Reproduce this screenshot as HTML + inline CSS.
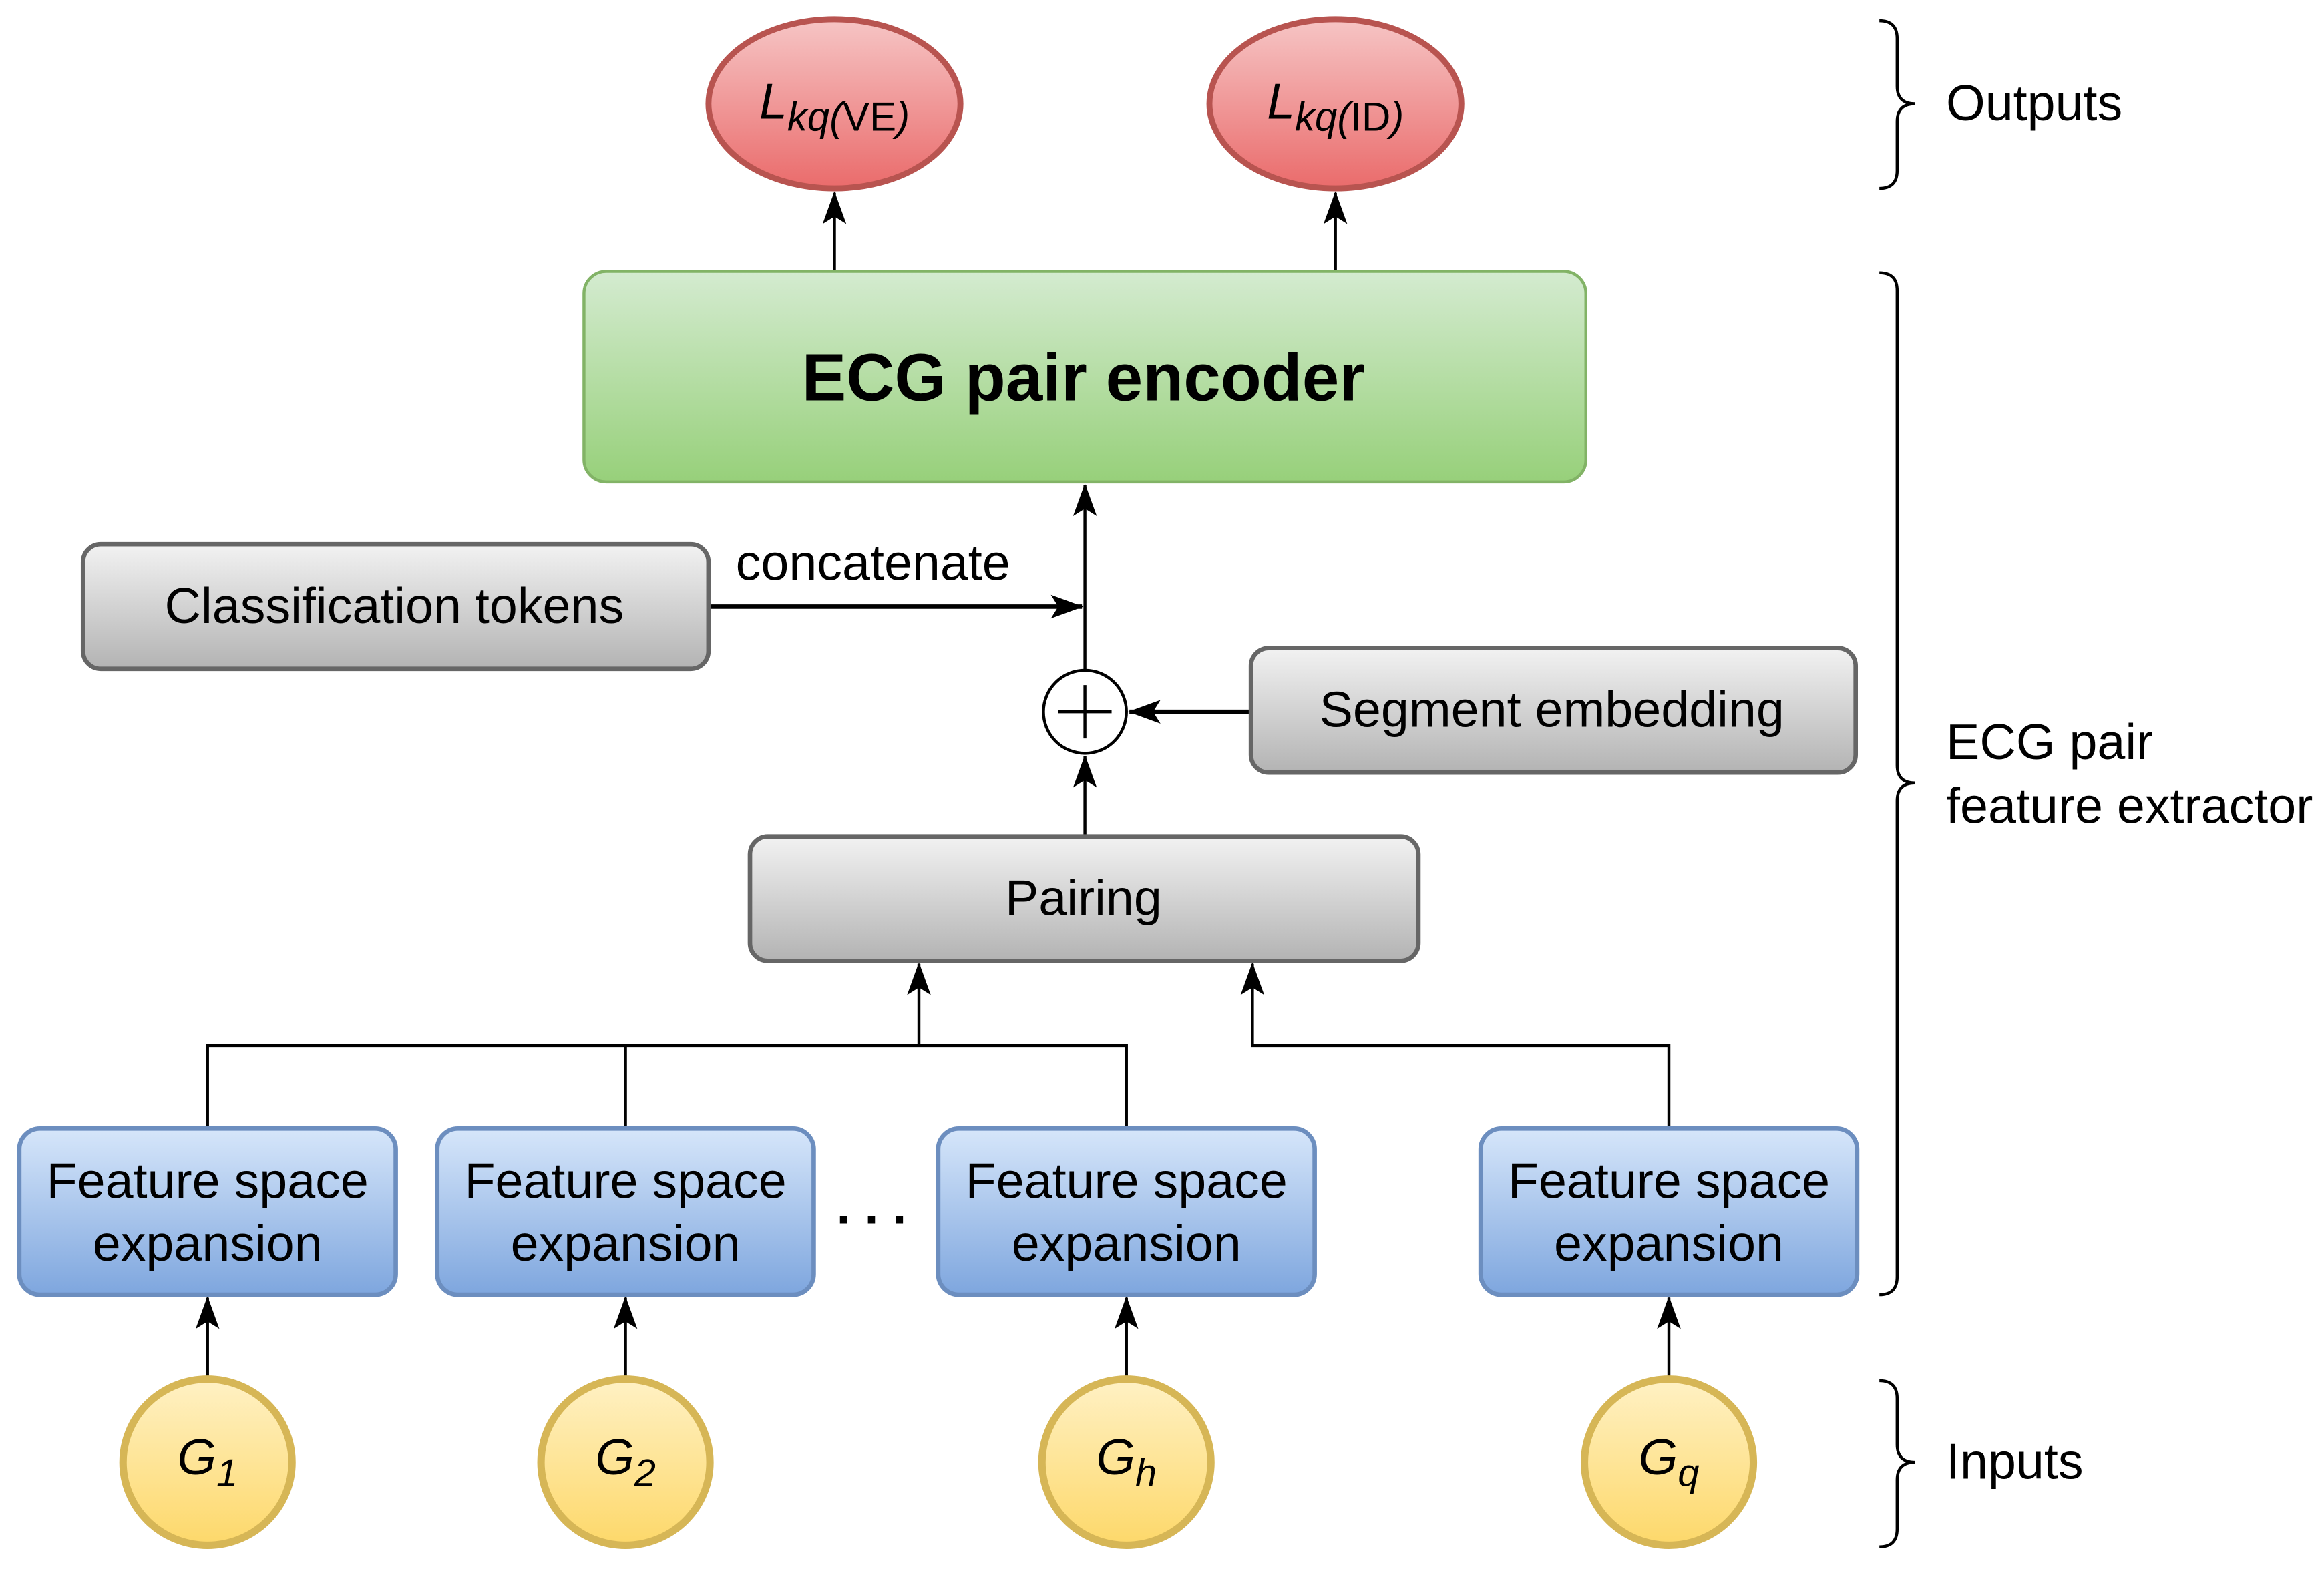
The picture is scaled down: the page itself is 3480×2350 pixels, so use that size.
<!DOCTYPE html>
<html><head><meta charset="utf-8"><style>html,body{margin:0;padding:0;background:#fff}svg{display:block}</style></head>
<body>
<svg width="3480" height="2350" viewBox="0 0 1568 1058" preserveAspectRatio="none" xmlns="http://www.w3.org/2000/svg" font-family="Liberation Sans, Arial, sans-serif">
<defs>
<linearGradient id="red" x1="0" y1="0" x2="0" y2="1"><stop offset="0" stop-color="#f6c5c5"/><stop offset="1" stop-color="#ea6b6b"/></linearGradient>
<linearGradient id="green" x1="0" y1="0" x2="0" y2="1"><stop offset="0" stop-color="#d4ebd0"/><stop offset="1" stop-color="#97d07a"/></linearGradient>
<linearGradient id="gray" x1="0" y1="0" x2="0" y2="1"><stop offset="0" stop-color="#f2f2f2"/><stop offset="1" stop-color="#b3b3b3"/></linearGradient>
<linearGradient id="blue" x1="0" y1="0" x2="0" y2="1"><stop offset="0" stop-color="#d6e6fa"/><stop offset="1" stop-color="#7ea6de"/></linearGradient>
<linearGradient id="yel" x1="0" y1="0" x2="0" y2="1"><stop offset="0" stop-color="#fff1c4"/><stop offset="1" stop-color="#fdd86a"/></linearGradient>
<marker id="ar" markerWidth="24" markerHeight="18" refX="21" refY="8" orient="auto" markerUnits="userSpaceOnUse"><path d="M0,0 L22,8 L0,16 L5,8 Z" fill="#000"/></marker>
</defs>
<g stroke="#000" stroke-width="2" fill="none">
<line x1="563" y1="183" x2="563" y2="130" marker-end="url(#ar)"/>
<line x1="901" y1="183" x2="901" y2="130" marker-end="url(#ar)"/>
<line x1="732" y1="452" x2="732" y2="327" marker-end="url(#ar)"/>
<line x1="478" y1="409" x2="730" y2="409" stroke-width="3" marker-end="url(#ar)"/>
<line x1="844" y1="480" x2="762" y2="480" stroke-width="3" marker-end="url(#ar)"/>
<line x1="732" y1="564" x2="732" y2="510" marker-end="url(#ar)"/>
<polyline points="140,761 140,705 760,705 760,761"/>
<line x1="422" y1="705" x2="422" y2="761"/>
<line x1="620" y1="705" x2="620" y2="650" marker-end="url(#ar)"/>
<polyline points="1126,761 1126,705 845,705 845,650" marker-end="url(#ar)"/>
<line x1="140" y1="930" x2="140" y2="875" marker-end="url(#ar)"/>
<line x1="422" y1="930" x2="422" y2="875" marker-end="url(#ar)"/>
<line x1="760" y1="930" x2="760" y2="875" marker-end="url(#ar)"/>
<line x1="1126" y1="930" x2="1126" y2="875" marker-end="url(#ar)"/>
</g>
<ellipse cx="563" cy="70" rx="85" ry="57" fill="url(#red)" stroke="#b85450" stroke-width="4"/>
<ellipse cx="901" cy="70" rx="85" ry="57" fill="url(#red)" stroke="#b85450" stroke-width="4"/>
<text x="563" y="80" font-size="34" text-anchor="middle" font-style="italic">L<tspan font-size="27" dy="8">kq(</tspan><tspan font-style="normal" font-size="27">VE</tspan><tspan font-size="27">)</tspan></text>
<text x="901" y="80" font-size="34" text-anchor="middle" font-style="italic">L<tspan font-size="27" dy="8">kq(</tspan><tspan font-style="normal" font-size="27">ID</tspan><tspan font-size="27">)</tspan></text>
<rect x="394" y="183" width="676" height="142" rx="15" fill="url(#green)" stroke="#82b366" stroke-width="2"/>
<text x="731" y="270" font-size="45" font-weight="bold" text-anchor="middle">ECG pair encoder</text>
<rect x="56" y="367" width="422" height="84" rx="12" fill="url(#gray)" stroke="#666" stroke-width="3"/>
<text x="266" y="420" font-size="34" text-anchor="middle">Classification tokens</text>
<text x="589" y="391" font-size="34" text-anchor="middle">concatenate</text>
<circle cx="732" cy="480" r="28" fill="#fff" stroke="#000" stroke-width="2"/>
<path d="M732,462 V498 M714,480 H750" stroke="#000" stroke-width="2"/>
<rect x="844" y="437" width="408" height="84" rx="12" fill="url(#gray)" stroke="#666" stroke-width="3"/>
<text x="1047" y="490" font-size="34" text-anchor="middle">Segment embedding</text>
<rect x="506" y="564" width="451" height="84" rx="12" fill="url(#gray)" stroke="#666" stroke-width="3"/>
<text x="731" y="617" font-size="34" text-anchor="middle">Pairing</text>
<g font-size="34" text-anchor="middle">
<rect x="13" y="761" width="254" height="112" rx="14" fill="url(#blue)" stroke="#6c8ebf" stroke-width="3"/>
<text x="140" y="808">Feature space</text><text x="140" y="850">expansion</text>
<rect x="295" y="761" width="254" height="112" rx="14" fill="url(#blue)" stroke="#6c8ebf" stroke-width="3"/>
<text x="422" y="808">Feature space</text><text x="422" y="850">expansion</text>
<rect x="633" y="761" width="254" height="112" rx="14" fill="url(#blue)" stroke="#6c8ebf" stroke-width="3"/>
<text x="760" y="808">Feature space</text><text x="760" y="850">expansion</text>
<rect x="999" y="761" width="254" height="112" rx="14" fill="url(#blue)" stroke="#6c8ebf" stroke-width="3"/>
<text x="1126" y="808">Feature space</text><text x="1126" y="850">expansion</text>
</g>
<text x="588" y="825" font-size="34" text-anchor="middle" font-weight="bold">. . .</text>
<g stroke="#d6b656" stroke-width="5" fill="url(#yel)">
<ellipse cx="140" cy="986" rx="57" ry="56"/><ellipse cx="422" cy="986" rx="57" ry="56"/>
<ellipse cx="760" cy="986" rx="57" ry="56"/><ellipse cx="1126" cy="986" rx="57" ry="56"/>
</g>
<g font-size="34" font-style="italic" text-anchor="middle">
<text x="140" y="994">G<tspan font-size="26" dy="8">1</tspan></text>
<text x="422" y="994">G<tspan font-size="26" dy="8">2</tspan></text>
<text x="760" y="994">G<tspan font-size="26" dy="8">h</tspan></text>
<text x="1126" y="994">G<tspan font-size="26" dy="8">q</tspan></text>
</g>
<g stroke="#000" stroke-width="2" fill="none">
<path d="M1268,14 Q1280,14 1280,26 V58 Q1280,70 1292,70 Q1280,70 1280,82 V115 Q1280,127 1268,127"/>
<path d="M1268,184 Q1280,184 1280,196 V516 Q1280,528 1292,528 Q1280,528 1280,540 V861 Q1280,873 1268,873"/>
<path d="M1268,931 Q1280,931 1280,943 V974 Q1280,986 1292,986 Q1280,986 1280,998 V1031 Q1280,1043 1268,1043"/>
</g>
<g font-size="34">
<text x="1313" y="81">Outputs</text>
<text x="1313" y="512">ECG pair</text>
<text x="1313" y="555">feature extractor</text>
<text x="1313" y="997">Inputs</text>
</g>
</svg>
</body></html>
